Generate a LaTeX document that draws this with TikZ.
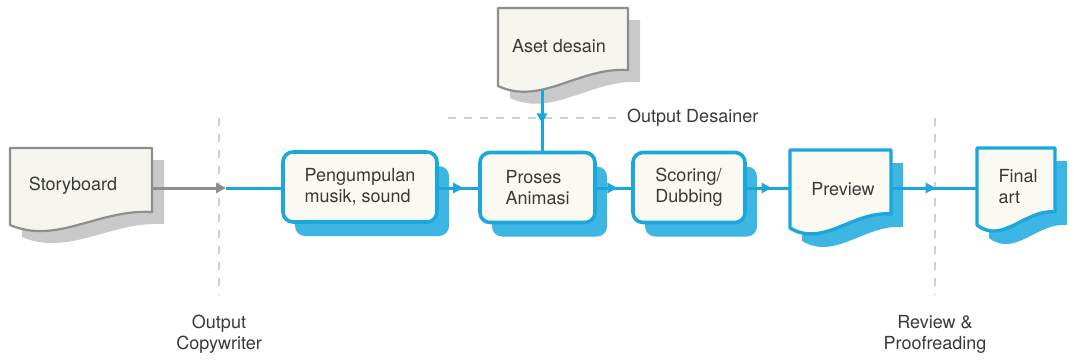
\documentclass[tikz,border=0pt]{standalone}
\usepackage{fontspec}
\setmainfont{TeX Gyre Heros}
\usetikzlibrary{arrows.meta,decorations.markings,shadows}
\definecolor{cblue}{HTML}{1CA7DC}
\definecolor{cshadow}{HTML}{3DB6E4}
\definecolor{cfill}{HTML}{FAF9F2}
\definecolor{gborder}{HTML}{8E8E8E}
\definecolor{gshadow}{HTML}{C9C9C9}
\definecolor{gfill}{HTML}{F6F5EF}
\definecolor{dashc}{HTML}{CFCFCF}
\definecolor{txt}{HTML}{3A3A3A}
% style, x1, y1, x2, yL (left bottom), yR (right bottom)
\newcommand{\docshape}[6]{%
  \pgfmathsetmacro\wA{#2+0.62*(#4-#2)}%
  \pgfmathsetmacro\wB{#2+0.33*(#4-#2)}%
  \path[#1] (#2,#3) -- (#4,#3) -- (#4,#6) .. controls (\wA,#6-3) and (\wB,#5+20) .. (#2,#5) -- cycle;%
}
\tikzset{
  lbl/.style={text=txt,font=\fontsize{18}{21}\selectfont,inner sep=0pt},
  boxnode/.style={lbl,draw=cblue,line width=3.6pt,fill=cfill,rounded corners=10pt,
    minimum height=70pt,align=left,
    drop shadow={shadow xshift=12pt,shadow yshift=-14pt,fill=cshadow,opacity=1}},
  docnode/.style={lbl,align=left},
  bluedoc/.style={draw=cblue,line width=3.4pt,fill=cfill,line join=round},
  bluedocshadow/.style={fill=cshadow,shift={(12,13)}},
  graydoc/.style={draw=gborder,line width=2.2pt,fill=gfill,line join=round},
  graydocshadow/.style={fill=gshadow,shift={(12,12)}},
  flow/.style={draw=cblue,line width=3pt},
  midarrow/.style={postaction={decorate},decoration={markings,
    mark=at position #1 with {\arrow{Triangle[length=10pt,width=10pt]}}}},
  dashline/.style={draw=dashc,line width=1.3pt,dash pattern=on 8pt off 8pt},
}
\begin{document}
\begin{tikzpicture}[x=1pt,y=-1pt]
\useasboundingbox (0,0) rectangle (1074,359);
\fill[white] (0,0) rectangle (1074,359);

% dashed separators
\draw[dashline] (219,118) -- (219,295);
\draw[dashline] (935,118) -- (935,295);
\draw[dashline] (448,118) -- (617,118);
\node[lbl,anchor=west] (od) at (627,118) {Output Desainer};
\node[lbl,align=center] (oc) at (219,334) {Output\\Copywriter};
\node[lbl,align=center] (rp) at (935,334) {Review \&\\Proofreading};

% Storyboard document
\docshape{graydocshadow}{10}{148}{152}{225}{212}
\docshape{graydoc}{10}{148}{152}{225}{212}
\node[docnode,minimum width=142pt,minimum height=70pt] (sb) at (81,188) {};
\node[lbl] (sbt) at (73,186) {Storyboard};

% Aset desain document
\docshape{graydocshadow}{498}{8}{628}{86}{70}
\docshape{graydoc}{498}{8}{628}{86}{70}
\node[docnode,minimum width=130pt,minimum height=70pt] (ad) at (563,45) {};
\node[lbl] (adt) at (559,46) {Aset desain};
\coordinate (adout) at (542,90);

% process boxes
\node[boxnode,minimum width=154pt] (b1) at (360,187) {Pengumpulan\\musik, sound};
\node[boxnode,minimum width=115pt] (b2) at (537.5,187.5) {Proses\\Animasi};
\node[boxnode,minimum width=112pt] (b3) at (689,187.5) {Scoring/\\Dubbing};

% Preview document
\docshape{bluedocshadow}{790}{150}{891}{228}{214}
\docshape{bluedoc}{790}{150}{891}{228}{214}
\node[docnode,minimum width=101pt,minimum height=70pt] (pv) at (840.5,188) {};
\node[lbl] (pvt) at (843,189) {Preview};

% Final art document
\docshape{bluedocshadow}{977}{148}{1055}{225}{212}
\docshape{bluedoc}{977}{148}{1055}{225}{212}
\node[docnode,minimum width=78pt,minimum height=70pt] (fa) at (1016,188) {};
\node[docnode] (fat) at (1018,187) {Final\\art};

% connectors
\coordinate (cw) at (226,188);
\draw[draw=gborder,line width=3pt,-{Triangle[length=10pt,width=10pt]}] (sb) -- (cw);
\draw[flow] (cw) -- (b1.west |- cw);
\draw[flow,midarrow=0.62] (b1.east |- cw) -- (b2.west |- cw);
\draw[flow,midarrow=0.6] (b2.east |- cw) -- (b3.west |- cw);
\draw[flow,midarrow=0.58] (b3.east |- cw) -- (pv.west |- cw);
\draw[flow,midarrow=0.52] (pv.east |- cw) -- (fa.west |- cw);
\draw[flow,midarrow=0.55] (adout) -- (adout |- b2.north);
\end{tikzpicture}
\end{document}
